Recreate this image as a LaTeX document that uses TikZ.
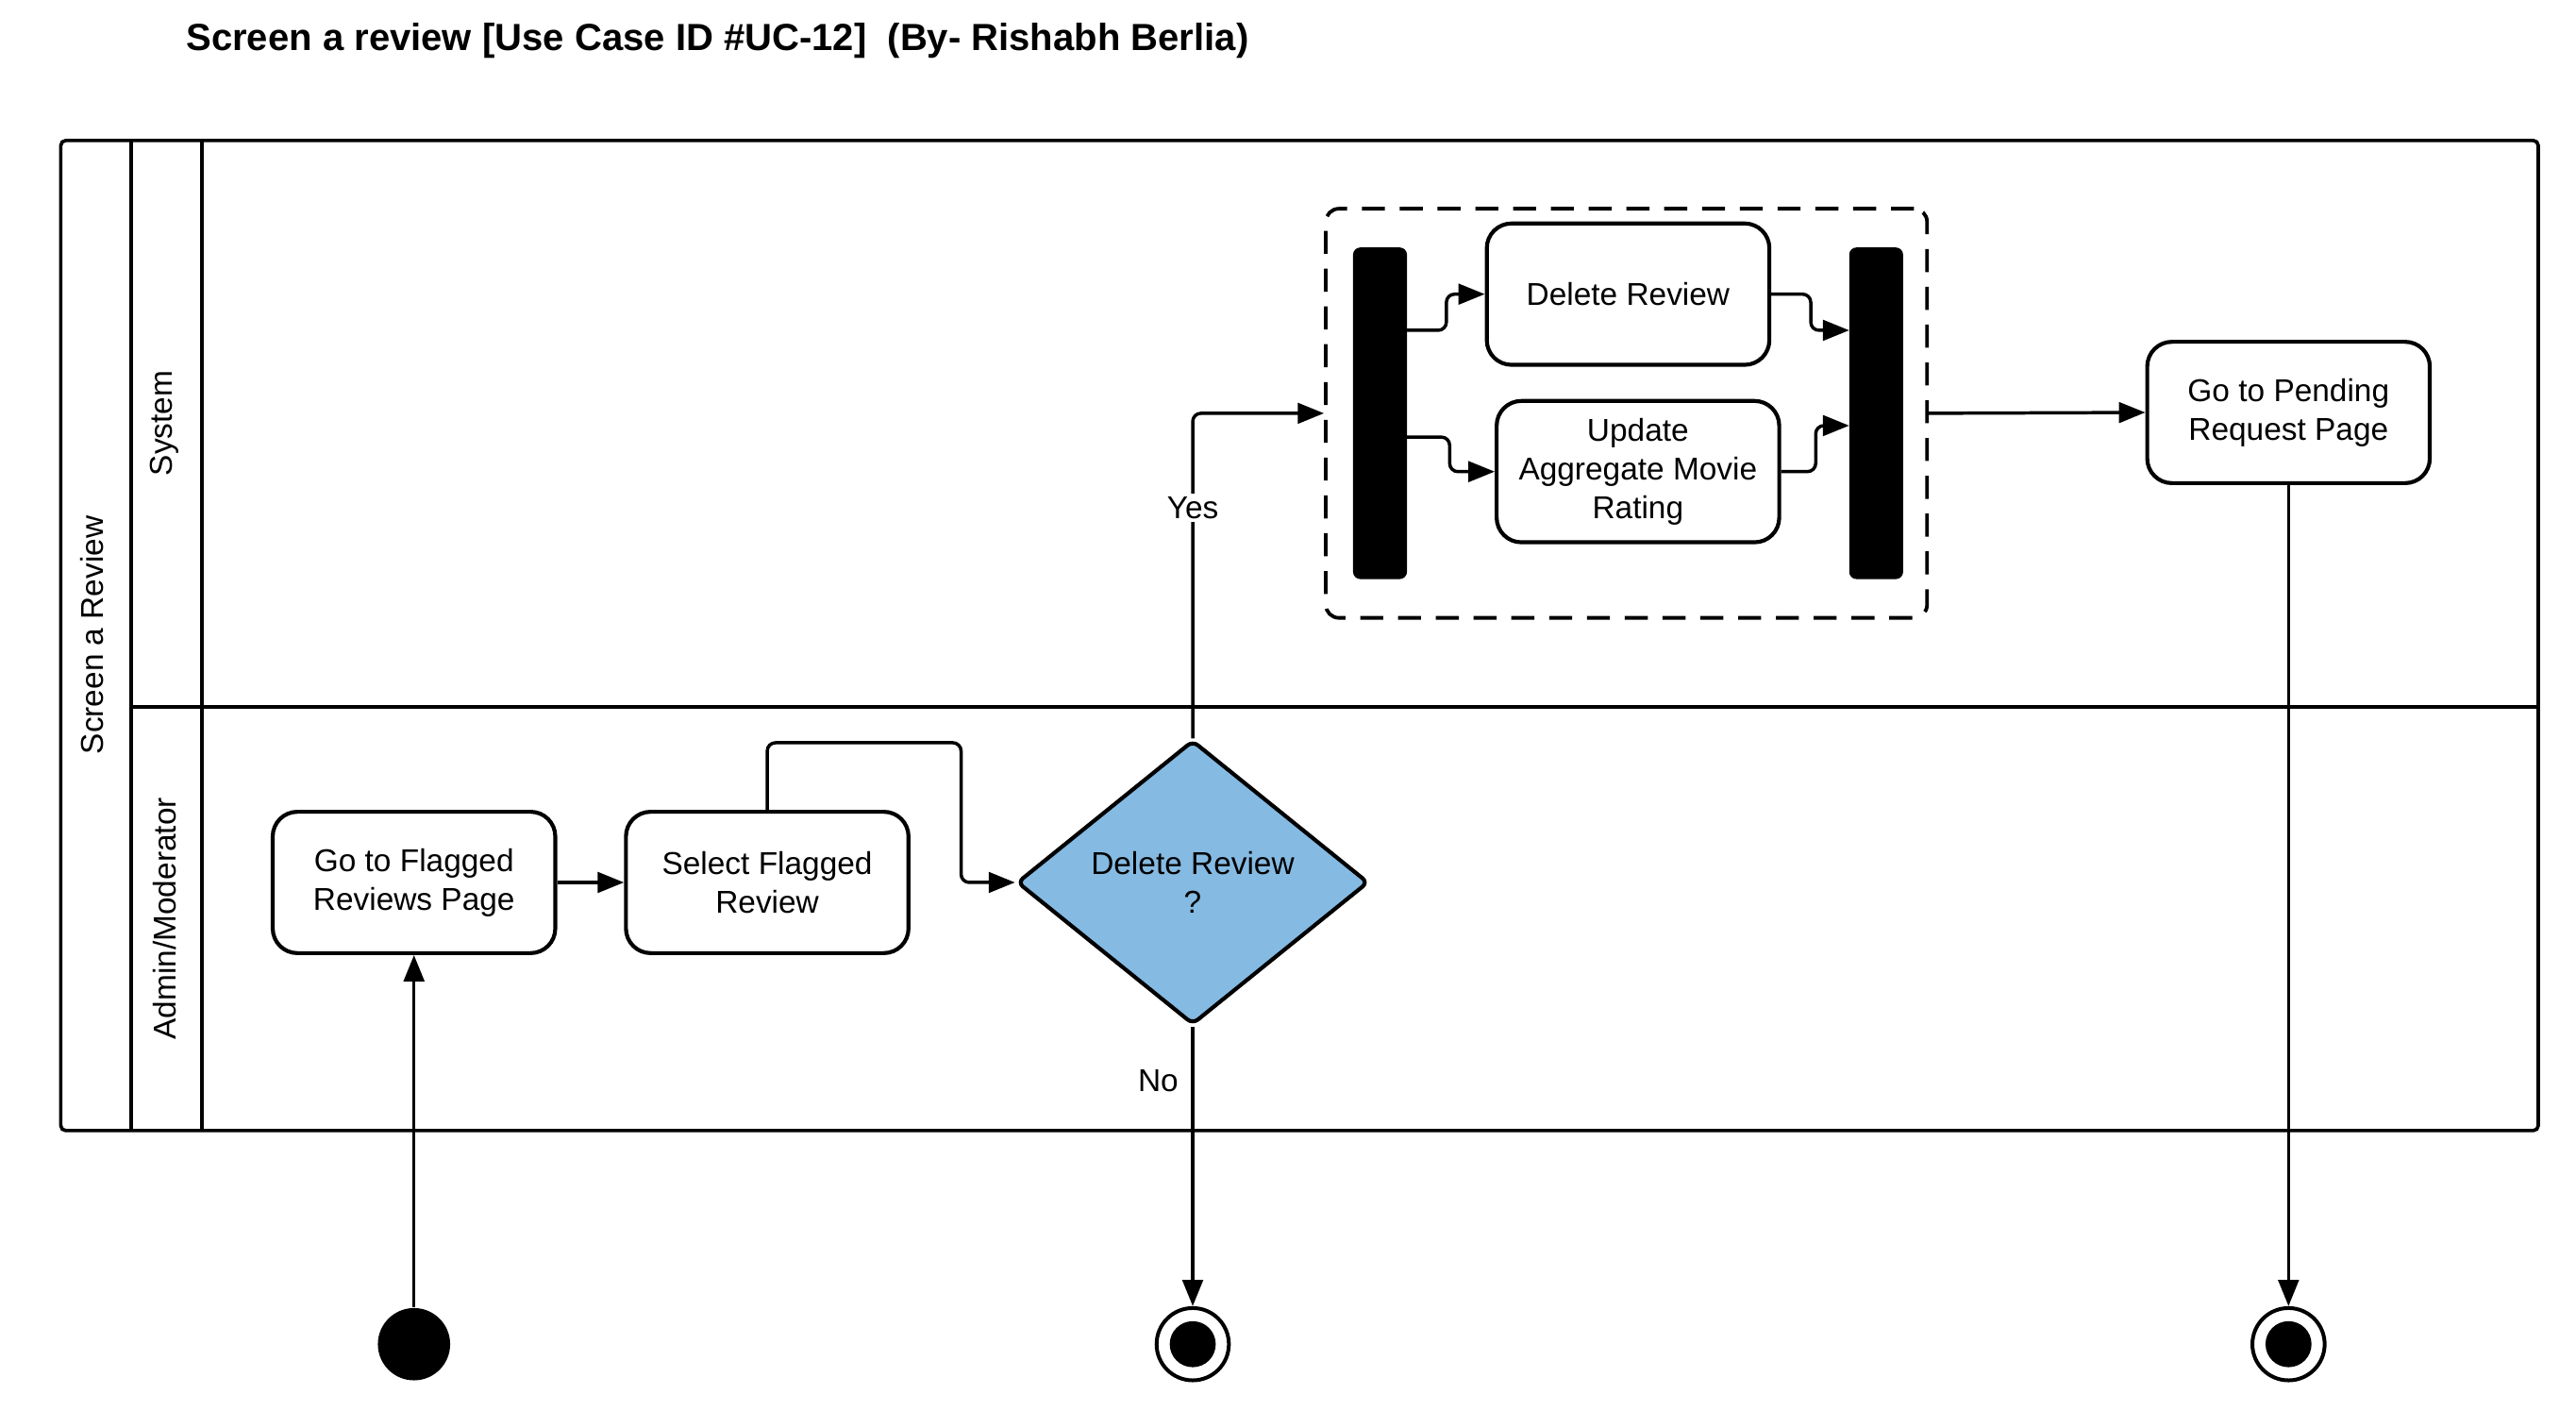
\documentclass[tikz,border=0pt]{standalone}
\usepackage{fontspec}
\setmainfont{Liberation Sans}
\usetikzlibrary{arrows.meta,shapes.geometric}
\definecolor{decblue}{HTML}{85BAE2}
\begin{document}
\begin{tikzpicture}[x=0.5pt,y=-0.5pt,
  txt/.style={font=\fontsize{9.6}{11.75}\selectfont},
  act/.style={txt,draw,line width=1.2pt,rounded corners=7.5pt,minimum width=86pt,minimum height=43pt,align=center,inner sep=0pt},
  bar/.style={fill=black,draw=black,rounded corners=2pt,minimum width=16pt,minimum height=100.5pt,inner sep=0pt},
  conn/.style={line width=1pt,-{Triangle[length=8pt,width=6.2pt]},rounded corners=2.5pt},
  lanelbl/.style={txt,rotate=90,inner sep=0pt},
  poolline/.style={line width=1.05pt}
]
\useasboundingbox (0,0) rectangle (1568,858.1);
% title
\node[anchor=west,inner sep=0pt,font=\fontsize{11.5}{13}\selectfont\bfseries] (title) at (113,24.5) {Screen a review [Use Case ID \#UC-12]~ (By- Rishabh Berlia)};
% pool and lanes
\draw[poolline,rounded corners=1.5pt] (37,85.5) rectangle (1545,688);
\draw[poolline] (80,85.5) -- (80,688);
\draw[poolline] (123,85.5) -- (123,688);
\draw[poolline] (80,430) -- (1545,430);
\node[lanelbl] (poolname) at (56,386.5) {Screen a Review};
\node[lanelbl] (lanesys) at (100,257.5) {System};
\node[lanelbl] (laneadm) at (100,559) {Admin/Moderator};
% nodes
\node[act] (gtf) at (252,537) {Go to Flagged\\Reviews Page};
\node[act] (sel) at (467,537) {Select Flagged\\Review};
\node[txt,diamond,draw,fill=decblue,line width=1.2pt,minimum width=107pt,minimum height=86.5pt,inner sep=0pt,align=center,rounded corners=2pt] (dec) at (726,537) {Delete Review\\?};
\node[draw,dashed,dash pattern=on 7pt off 4.5pt,line width=1.1pt,rounded corners=4pt,minimum width=183pt,minimum height=124.5pt,inner sep=0pt] (par) at (990,251.5) {};
\node[bar] (fork) at (840,251.5) {};
\node[bar] (join) at (1142,251.5) {};
\node[act] (del) at (991,179) {Delete Review};
\node[act] (upd) at (997,287) {Update\\Aggregate Movie\\Rating};
\node[act] (pend) at (1393,251) {Go to Pending\\Request Page};
\node[circle,fill=black,minimum size=22pt,inner sep=0pt] (start) at (252,818) {};
\node[circle,draw,fill=white,line width=1.15pt,minimum size=22pt,inner sep=0pt] (end1) at (726,818) {};
\node[circle,fill=black,minimum size=14pt,inner sep=0pt] (end1i) at (726,818) {};
\node[circle,draw,fill=white,line width=1.15pt,minimum size=22pt,inner sep=0pt] (end2) at (1393,818) {};
\node[circle,fill=black,minimum size=14pt,inner sep=0pt] (end2i) at (1393,818) {};
% connectors
\coordinate (selturn) at (585,452);
\draw[conn] (start) -- (gtf);
\draw[conn] (gtf) -- (sel);
\draw[conn] (sel.north) |- (selturn) |- (dec.west);
\draw[conn] (dec.north) |- (par.west);
\node[txt,fill=white,inner sep=1pt] (yes) at (726,309) {Yes};
\draw[conn] (dec.south) -- (end1);
\node[txt,inner sep=0pt] (no) at (705,658) {No};
\draw[conn] ([yshift=25.25pt]fork.east) -- ++(24,0) |- (del.west);
\draw[conn] ([yshift=-7.25pt]fork.east) -- ++(26,0) |- (upd.west);
\draw[conn] (del.east) -- ++(24,0) |- ([yshift=25.25pt]join.west);
\draw[conn] (upd.east) -- ++(21,0) |- ([yshift=-3.75pt]join.west);
\draw[conn] (par.east) -- (pend.west);
\draw[conn] (pend) -- (end2);
\end{tikzpicture}
\end{document}
